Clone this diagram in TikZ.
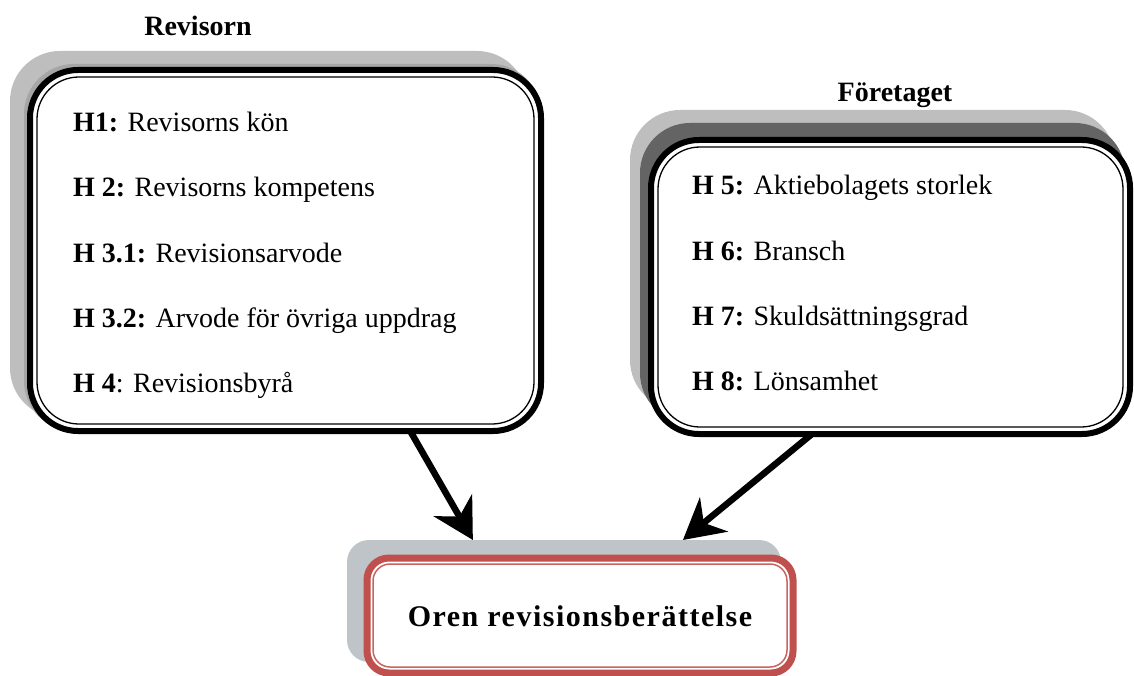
\documentclass[tikz,border=0pt]{standalone}
\usepackage{fontspec}
\setmainfont{Liberation Serif}
\usetikzlibrary{arrows.meta,calc}
\definecolor{redb}{RGB}{192,80,77}
\definecolor{redl}{RGB}{200,100,96}
\definecolor{shgray}{RGB}{190,190,190}
\definecolor{shdark}{RGB}{100,100,100}
\definecolor{shblue}{RGB}{190,196,199}
\begin{document}
\begin{tikzpicture}[x=1pt,y=-1pt,
  shadowbox/.style={fill=#1, rounded corners=50pt, inner sep=0pt, outer sep=0pt},
  mainbox/.style={draw=black, line width=6pt, fill=white, rounded corners=48pt, inner sep=0pt, outer sep=0pt},
  innerline/.style={draw=black, line width=1.3pt, rounded corners=42pt},
  resbox/.style={draw=redb, line width=7pt, fill=white, rounded corners=22pt, inner sep=0pt, outer sep=0pt},
  resinner/.style={draw=redl, line width=1.5pt, rounded corners=17pt},
  ressh/.style={fill=shblue, rounded corners=22pt, inner sep=0pt, outer sep=0pt},
  hyp/.style={anchor=base west, font=\fontsize{28}{30}\selectfont, inner sep=0pt},
  ttl/.style={anchor=base, font=\fontsize{28}{30}\selectfont\bfseries, inner sep=0pt},
  arr/.style={line width=6.5pt, -{Stealth[length=40pt,width=44pt,inset=13pt]}}
]
\useasboundingbox (0,0) rectangle (1134,676);

% shadows
\node[shadowbox=shgray, minimum width=517pt, minimum height=367pt] (revsh) at (268.5,234.5) {};
\node[shadowbox=black!35, minimum width=517pt, minimum height=367pt] (revsh2) at (282.5,247.5) {};
\node[shadowbox=shgray, minimum width=485pt, minimum height=300pt] (fsh) at (872.5,260) {};
\node[shadowbox=shdark, minimum width=485pt, minimum height=300pt] (fsh2) at (882.5,273) {};
\node[ressh, minimum width=434pt, minimum height=122pt] (ressh) at (564,601) {};

% main boxes
\node[mainbox, minimum width=511pt, minimum height=361pt] (rev) at (285.5,250.5) {};
\draw[innerline] ($(rev.north west)+(7,7)$) rectangle ($(rev.south east)+(-7,-7)$);
\node[mainbox, minimum width=479pt, minimum height=294pt] (fore) at (890.5,287) {};
\draw[innerline] ($(fore.north west)+(7,7)$) rectangle ($(fore.south east)+(-7,-7)$);
\node[resbox, minimum width=426pt, minimum height=115pt] (res) at (580,615.5) {};
\draw[resinner] ($(res.north west)+(6,6)$) rectangle ($(res.south east)+(-6,-6)$);

% titles
\node[ttl] (trev) at (198,36) {Revisorn};
\node[ttl] (tfore) at (895,102) {Företaget};

% hypotheses
\node[hyp] (h1) at (73,132) {\textbf{H1:} Revisorns kön};
\node[hyp] (h2) at (73,197) {\textbf{H 2:} Revisorns kompetens};
\node[hyp] (h31) at (73,262) {\textbf{H 3.1:} Revisionsarvode};
\node[hyp] (h32) at (73,327) {\textbf{H 3.2:} Arvode för övriga uppdrag};
\node[hyp] (h4) at (73,392) {\textbf{H 4}: Revisionsbyrå};

\node[hyp] (h5) at (692,195) {\textbf{H 5:} Aktiebolagets storlek};
\node[hyp] (h6) at (692,260) {\textbf{H 6:} Bransch};
\node[hyp] (h7) at (692,325) {\textbf{H 7:} Skuldsättningsgrad};
\node[hyp] (h8) at (692,390) {\textbf{H 8:} Lönsamhet};

% result text
\node[anchor=base, inner sep=0pt, font=\fontsize{30}{32}\selectfont\bfseries\addfontfeatures{LetterSpace=5}] (restxt) at (580,626) {Oren revisionsberättelse};

% arrows
\draw[arr] ($(rev.south west)!0.744!(rev.south east)$) -- ($(ressh.north west)!0.29!(ressh.north east)$);
\draw[arr] ($(fore.south west)!0.336!(fore.south east)$) -- ($(ressh.north west)!0.774!(ressh.north east)$);
\end{tikzpicture}
\end{document}
